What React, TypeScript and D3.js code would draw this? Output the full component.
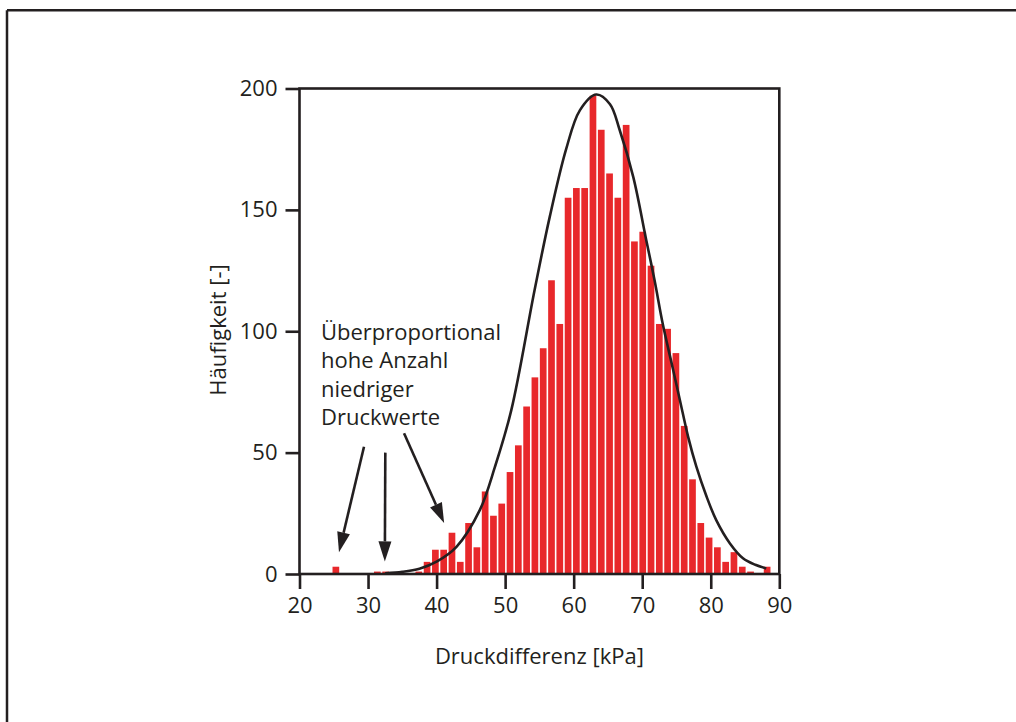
import React, { useEffect, useRef } from "react";
import * as d3 from "d3";

// Histogram: regular bins (kPa), left edge of first bin and bin width
const binStart = 24.7;
const binWidth = 1.21;
const counts = [
  3, 0, 0, 0, 0, 1, 1, 0, 0, 0,
  1, 5, 10, 10, 17, 5, 21, 11, 34, 24,
  29, 42, 53, 69, 81, 93, 121, 103, 155, 159,
  159, 197, 183, 165, 155, 185, 137, 141, 127, 103,
  101, 91, 61, 39, 21, 15, 11, 5, 9, 3,
  1, 0, 3,
];

// Fitted distribution curve
const curveX = [32.5, 35, 37.5, 40, 42.9, 46.3, 48.5, 50.9, 54.3, 56.5, 58.9, 60.9, 63.3, 65.3, 66.7, 68.7, 70.6, 71.8, 73.0, 74.3, 75.5, 76.7, 77.9, 79.4, 80.8, 82.8, 84.7, 86.5, 88.1];
const curveY = [0.3, 0.9, 2.2, 5.1, 11.2, 26.3, 44, 67.5, 117, 147, 175, 191, 197.5, 193.5, 183, 163.5, 137.4, 121, 103, 86.7, 71.6, 56.5, 44.2, 31.8, 22.2, 12.6, 6.5, 3.8, 2.3];

const xTicks = [20, 30, 40, 50, 60, 70, 80, 90];
const yTicks = [0, 50, 100, 150, 200];

const xLabel = "Druckdifferenz [kPa]";
const yLabel = "Häufigkeit [-]";
const noteLines = ["Überproportional", "hohe Anzahl", "niedriger", "Druckwerte"];
// arrows in data units: [fromX, fromY, toX, toY]
const arrows = [
  [29.41, 52.4, 25.76, 9.0],
  [32.52, 50.0, 32.45, 5.2],
  [35.25, 58.0, 41.1, 21.0],
];
const noteX = 23.14;
const noteY = 96.4;

const W = 1016;
const H = 722;
const FONT = "'Open Sans', 'Noto Sans', sans-serif";
const INK = "#231f20";
const RED = "#e8282b";

export default function App() {
  const ref = useRef<SVGSVGElement>(null);

  useEffect(() => {
    const svg = d3.select(ref.current);
    svg.selectAll("*").remove();

    const x = d3.scaleLinear().domain([20, 90]).range([299.5, 779.3]);
    const y = d3.scaleLinear().domain([0, 200]).range([574, 88.5]);

    // outer frame (top + left visible)
    svg.append("line").attr("x1", 7).attr("x2", W).attr("y1", 10.3).attr("y2", 10.3)
      .attr("stroke", INK).attr("stroke-width", 2.5);
    svg.append("line").attr("x1", 7).attr("x2", 7).attr("y1", 10.3).attr("y2", H)
      .attr("stroke", INK).attr("stroke-width", 2.5);

    // bars
    const pitch = x(binStart + binWidth) - x(binStart);
    svg.append("g").selectAll("rect").data(counts).join("rect")
      .attr("x", (_d, i) => x(binStart + i * binWidth) + 0.8)
      .attr("width", pitch - 1.6)
      .attr("y", (d) => y(d))
      .attr("height", (d) => y(0) - y(d))
      .attr("fill", RED)
      .attr("display", (d) => (d > 0 ? null : "none"));

    // curve
    const pts = curveX.map((v, i) => [v, curveY[i]] as [number, number]);
    const line = d3.line<[number, number]>()
      .x((d) => x(d[0])).y((d) => y(d[1]))
      .curve(d3.curveCatmullRom.alpha(0.5));
    svg.append("path").attr("d", line(pts)).attr("fill", "none")
      .attr("stroke", INK).attr("stroke-width", 2.6);

    // plot frame
    svg.append("rect").attr("x", x(20)).attr("y", y(200))
      .attr("width", x(90) - x(20)).attr("height", y(0) - y(200))
      .attr("fill", "none").attr("stroke", INK).attr("stroke-width", 2.6);

    // x axis
    const gx = svg.append("g").attr("transform", `translate(0,${y(0)})`)
      .call(d3.axisBottom(x).tickValues(xTicks).tickSize(15).tickPadding(8).tickFormat(d3.format("d")));
    gx.select(".domain").remove();
    gx.selectAll("line").attr("stroke", INK).attr("stroke-width", 2.6);
    gx.selectAll("text").attr("fill", INK).attr("font-family", FONT).attr("font-size", 22);

    // y axis
    const gy = svg.append("g").attr("transform", `translate(${x(20)},0)`)
      .call(d3.axisLeft(y).tickValues(yTicks).tickSize(14).tickPadding(8).tickFormat(d3.format("d")));
    gy.select(".domain").remove();
    gy.selectAll("line").attr("stroke", INK).attr("stroke-width", 2.6);
    gy.selectAll("text").attr("fill", INK).attr("font-family", FONT).attr("font-size", 22);

    // axis labels
    svg.append("text").attr("x", (x(20) + x(90)) / 2).attr("y", 664)
      .attr("text-anchor", "middle").attr("fill", INK)
      .attr("font-family", FONT).attr("font-size", 22).text(xLabel);
    svg.append("text").attr("transform", `translate(226,330) rotate(-90)`)
      .attr("text-anchor", "middle").attr("fill", INK)
      .attr("font-family", FONT).attr("font-size", 22).text(yLabel);

    // annotation
    const note = svg.append("text").attr("fill", INK).attr("font-family", FONT).attr("font-size", 22);
    noteLines.forEach((t, i) => {
      note.append("tspan").attr("x", x(noteX)).attr("y", y(noteY) + i * 28.3).text(t);
    });

    // arrows
    arrows.forEach(([fx, fy, tx, ty]) => {
      const x1 = x(fx), y1 = y(fy), x2 = x(tx), y2 = y(ty);
      const ang = Math.atan2(y2 - y1, x2 - x1);
      const hl = 20, hw = 6.5;
      const bx = x2 - hl * Math.cos(ang), by = y2 - hl * Math.sin(ang);
      svg.append("line").attr("x1", x1).attr("y1", y1).attr("x2", bx).attr("y2", by)
        .attr("stroke", INK).attr("stroke-width", 2.6);
      const px = -Math.sin(ang), py = Math.cos(ang);
      svg.append("path")
        .attr("d", `M${x2},${y2}L${bx + px * hw},${by + py * hw}L${bx - px * hw},${by - py * hw}Z`)
        .attr("fill", INK);
    });
  }, []);

  return (
    <svg ref={ref} width={W} height={H}
      style={{ position: "absolute", left: 0, top: 0, background: "#fff" }} />
  );
}
